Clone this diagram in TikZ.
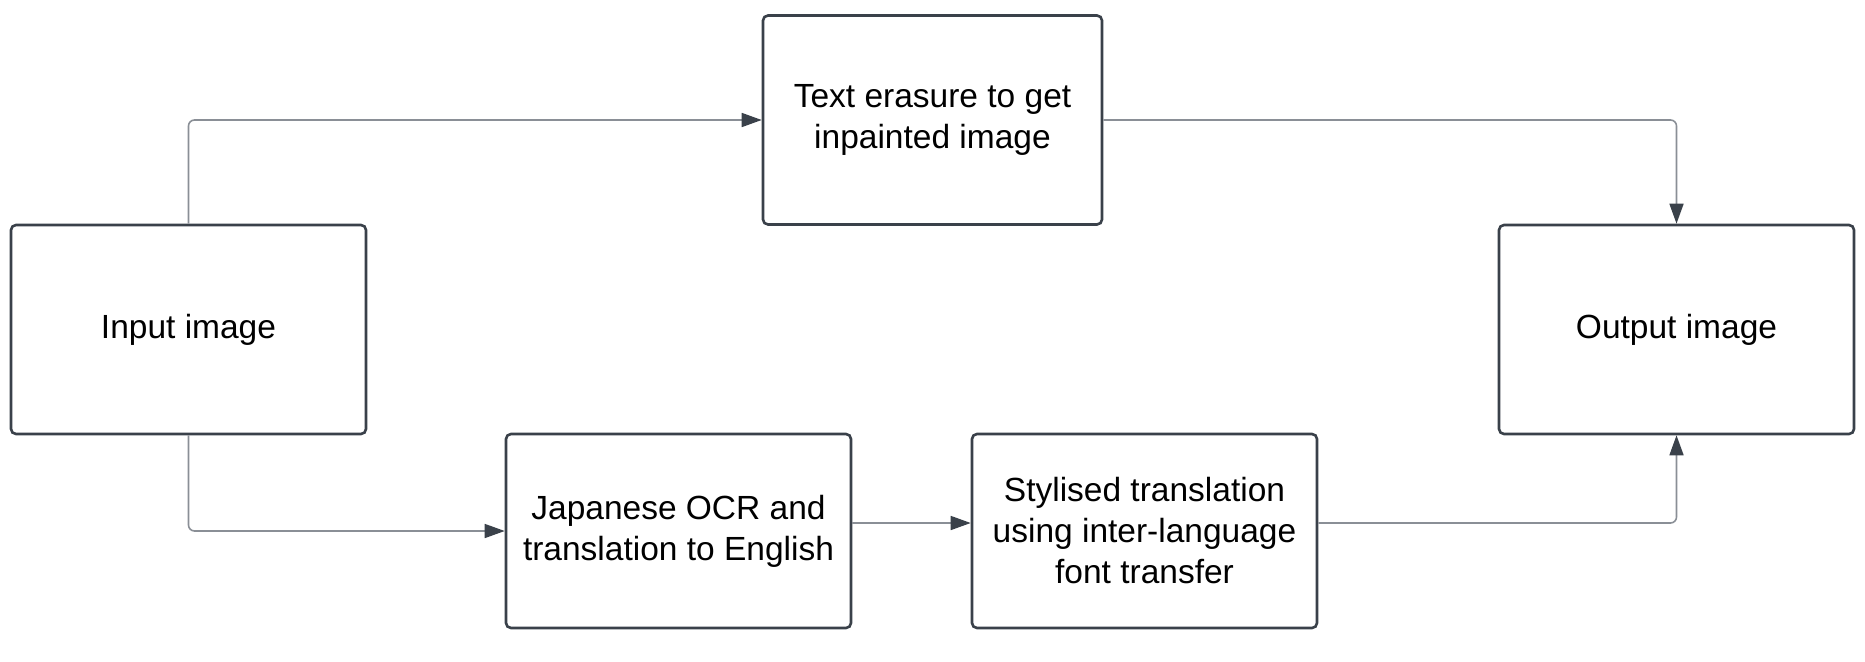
\documentclass[tikz,border=0pt]{standalone}
\usepackage{fontspec}
\setmainfont{Liberation Sans}
\usetikzlibrary{arrows.meta}
\definecolor{boxline}{HTML}{3A414A}
\definecolor{conn}{HTML}{8A8F96}
\definecolor{tipcol}{HTML}{3A414A}
\begin{document}
\begin{tikzpicture}[x=1pt,y=-1pt,
  stepbox/.style={draw=boxline, line width=2.6pt, rounded corners=5pt, fill=white,
    inner sep=0pt, align=center, text=black,
    font=\fontsize{33.5}{41}\selectfont},
  conline/.style={draw=conn, line width=1.6pt, rounded corners=6pt,
    -{Triangle[length=20pt,width=14pt,color=tipcol]}}]
\useasboundingbox (0,0) rectangle (1865,661);
\node[stepbox, minimum width=355pt, minimum height=209pt] (inp) at (188.5,329.5) {Input image};
\node[stepbox, minimum width=339pt, minimum height=209pt] (era) at (932.5,120) {Text erasure to get\\inpainted image};
\node[stepbox, minimum width=355pt, minimum height=209pt] (out) at (1676.5,329.5) {Output image};
\node[stepbox, minimum width=345pt, minimum height=194pt] (ocr) at (678.5,531) {Japanese OCR and\\translation to English};
\node[stepbox, minimum width=345pt, minimum height=194pt] (sty) at (1144.5,531) {Stylised translation\\using inter-language\\font transfer};
\coordinate (c1) at (inp.north |- era.west);
\coordinate (c2) at (out.north |- era.east);
\coordinate (c3) at (inp.south |- ocr.west);
\coordinate (ojs) at ([yshift=8pt]ocr.east);
\coordinate (sje) at ([yshift=8pt]sty.west);
\coordinate (sso) at ([yshift=8pt]sty.east);
\coordinate (c4) at (out.south |- sso);
\draw[conline] (inp.north) -- (c1) -- (era.west);
\draw[conline] (era.east) -- (c2) -- (out.north);
\draw[conline] (inp.south) -- (c3) -- (ocr.west);
\draw[conline] (ojs) -- (sje);
\draw[conline] (sso) -- (c4) -- (out.south);
\end{tikzpicture}
\end{document}
